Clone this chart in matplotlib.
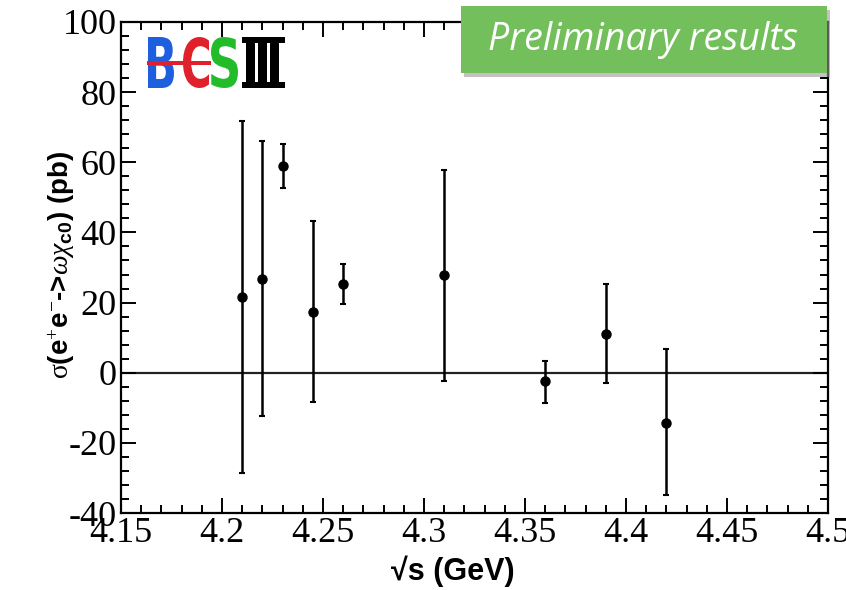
import matplotlib
matplotlib.use("Agg")
import matplotlib.pyplot as plt
import numpy as np
from matplotlib.textpath import TextPath
from matplotlib.patches import PathPatch, Rectangle
from matplotlib.font_manager import FontProperties
from matplotlib.transforms import Affine2D
from matplotlib.ticker import MultipleLocator

# data
energy = [4.21, 4.22, 4.23, 4.245, 4.26, 4.31, 4.36, 4.39, 4.42]
xsec = [21.6, 26.8, 58.9, 17.4, 25.2, 27.8, -2.5, 11.1, -14.2]
err_up = [50.2, 39.3, 6.3, 25.9, 5.7, 30.0, 5.9, 14.2, 21.1]
err_dn = [50.2, 39.1, 6.3, 25.7, 5.7, 30.1, 6.0, 14.0, 20.8]
xticks = ["4.15", "4.2", "4.25", "4.3", "4.35", "4.4", "4.45", "4.5"]
yticks = [-40, -20, 0, 20, 40, 60, 80, 100]

W, H = 846, 590
fig = plt.figure(figsize=(W / 100, H / 100), dpi=100)
ax = fig.add_axes([121 / W, 1 - 513 / H, 707 / W, 491 / H])

ax.axhline(0, color="#222222", lw=1.6, zorder=1)
ax.errorbar(energy, xsec, yerr=[err_dn, err_up], fmt="o", color="black",
            ms=6.5, elinewidth=1.8, capsize=2.5, capthick=1.5, zorder=3)

ax.set_xlim(4.15, 4.5)
ax.set_ylim(-40, 100)
ax.xaxis.set_minor_locator(MultipleLocator(0.01))
ax.yaxis.set_minor_locator(MultipleLocator(4))
ax.tick_params(which="both", direction="in", top=True, right=True, width=1.4)
ax.tick_params(which="major", length=11)
ax.tick_params(which="minor", length=6)
ax.tick_params(axis="x", pad=3)
ax.tick_params(axis="y", pad=3)
for s in ax.spines.values():
    s.set_linewidth(1.6)

serif = FontProperties(family="Liberation Serif", size=26)
ax.set_xticks([float(t) for t in xticks])
ax.set_xticklabels(xticks, fontproperties=serif)
ax.set_yticks(yticks)
ax.set_yticklabels([str(v) for v in yticks], fontproperties=serif)

plt.rcParams["mathtext.fontset"] = "custom"
plt.rcParams["mathtext.rm"] = "Liberation Serif"
plt.rcParams["mathtext.bf"] = "Liberation Sans:bold"
plt.rcParams["mathtext.it"] = "Liberation Serif:italic"

fig.text(453 / W, 1 - 571 / H, "\u221as (GeV)", ha="center", va="center",
         family="Liberation Sans", weight="bold", size=22)
fig.text(62 / W, 1 - 265 / H,
         r"$\mathrm{\sigma}$(e$^{+}$e$^{-}$->$\omega\chi_{\mathbf{c0}}$) (pb)",
         ha="center", va="center", rotation=90,
         family="Liberation Sans", weight="bold", size=20)

# BESIII logo
bold = FontProperties(family="DejaVu Sans", weight="bold")
def glyph(ch, x0, y0, x1, y1, color):
    p = TextPath((0, 0), ch, size=1, prop=bold)
    e = p.get_extents()
    t = (Affine2D().translate(-e.x0, -e.y0)
         .scale((x1 - x0) / e.width, (y1 - y0) / e.height)
         .translate(x0, H - y1).scale(1 / W, 1 / H) + fig.transFigure)
    fig.add_artist(PathPatch(p, transform=t, color=color, lw=0))

glyph("B", 148, 37, 174, 88, "#1e5fe0")
glyph("C", 183, 37, 209, 88, "#e0202a")
glyph("S", 211, 37, 238, 88, "#22bb2a")
fig.add_artist(Rectangle((147 / W, 1 - 65 / H), 64 / W, 4 / H,
                         transform=fig.transFigure, color="#e0202a", lw=0))
for bx in (246, 258, 270):
    fig.add_artist(Rectangle((bx / W, 1 - 88 / H), 9 / W, 51 / H,
                             transform=fig.transFigure, color="black", lw=0))
for by in (37, 82):
    fig.add_artist(Rectangle((242 / W, 1 - (by + 6) / H), 43 / W, 6 / H,
                             transform=fig.transFigure, color="black", lw=0))

# "Preliminary results" box
fig.add_artist(Rectangle((464 / W, 1 - 77 / H), 366 / W, 67 / H,
                         transform=fig.transFigure, color="#9a9a9a", alpha=0.6, lw=0))
fig.add_artist(Rectangle((461 / W, 1 - 73 / H), 366 / W, 67 / H,
                         transform=fig.transFigure, color="#73bf5b", lw=0))
fig.text(643 / W, 1 - 40 / H, "Preliminary results", ha="center", va="center",
         color="white", family="Open Sans", style="italic", size=27)

fig.savefig("out.png", dpi=100)
